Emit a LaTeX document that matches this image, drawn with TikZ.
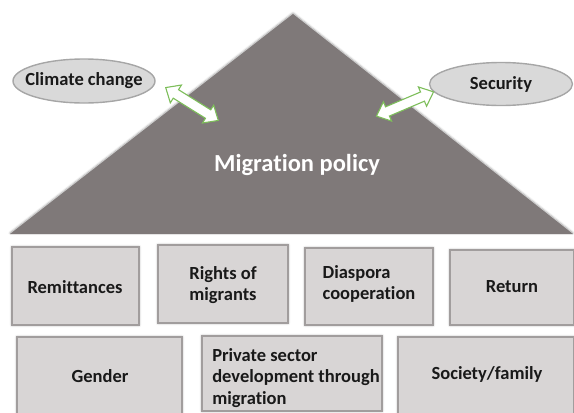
\documentclass[tikz,border=0pt]{standalone}
\usepackage{fontspec}
\setmainfont{Carlito}[Ligatures={NoCommon}]
\usetikzlibrary{shapes.geometric,shadows.blur}
\definecolor{tri}{HTML}{7F7979}
\definecolor{boxfill}{HTML}{D8D5D5}
\definecolor{boxline}{HTML}{A19D9D}
\definecolor{ellfill}{HTML}{D9D9D9}
\definecolor{ellline}{HTML}{A6A6A6}
\definecolor{arrgreen}{HTML}{7DBE5A}
\tikzset{
  topic/.style={draw=boxline, line width=1.8pt, fill=boxfill, inner sep=0pt,
    blur shadow={shadow blur steps=6, shadow xshift=0pt, shadow yshift=0pt, shadow blur radius=2.5pt, shadow opacity=40}},
  lbl/.style={font=\bfseries\fontsize{18.5}{21.5}\selectfont, text=black!90, align=left},
  ell/.style={ellipse, draw=ellline, line width=1.4pt, fill=ellfill, inner sep=0pt},
  link/.style={draw=arrgreen, line width=1.1pt, fill=white, line join=miter},
  dblarrow/.pic={
    \path[link] (-31,0) -- (-19,-10.5) -- (-19,-5) -- (19,-5) -- (19,-10.5) -- (31,0)
      -- (19,10.5) -- (19,5) -- (-19,5) -- (-19,10.5) -- cycle;
  }
}
\begin{document}
\begin{tikzpicture}[x=1pt,y=-1pt]
\useasboundingbox (0,0) rectangle (574,413);
% triangle
\path[fill=tri, blur shadow={shadow blur steps=6, shadow xshift=0pt, shadow yshift=1pt, shadow blur radius=2pt, shadow opacity=35}]
  (10,234) -- (293,14) -- (573,234) -- cycle;
\node[font=\bfseries\fontsize{24.5}{28}\selectfont, text=white] (mp) at (297,165) {Migration policy};
% ellipses
\node[ell, minimum width=142pt, minimum height=44pt] (cc) at (84,81) {};
\node[lbl] at (cc.center) {Climate change};
\node[ell, minimum width=143pt, minimum height=43pt] (sec) at (501,84) {};
\node[lbl] at (sec.center) {Security};
% arrows
\pic[rotate=-32] (a1) at (192,104) {dblarrow};
\pic[rotate=23] (a2) at (405,104) {dblarrow};
% row 1
\path[topic] (12,247) rectangle (139,325);
\node[lbl] (rem) at (75,287) {Remittances};
\path[topic] (158,245) rectangle (288,323);
\node[lbl] (rig) at (223,285) {Rights of\\migrants};
\path[topic] (305,248) rectangle (433,325);
\node[lbl] (dia) at (369,284) {Diaspora\\cooperation};
\path[topic] (450,250) rectangle (574,325);
\node[lbl] (ret) at (512,287) {Return};
% row 2
\path[topic] (17,337) rectangle (182,416);
\node[lbl] (gen) at (100,376) {Gender};
\path[topic] (202,336) rectangle (382,411);
\node[lbl] (pri) at (296,378) {Private sector\\development through\\migration};
\path[topic] (398,337) rectangle (574,416);
\node[lbl] (soc) at (487,374) {Society/family};
\end{tikzpicture}
\end{document}
